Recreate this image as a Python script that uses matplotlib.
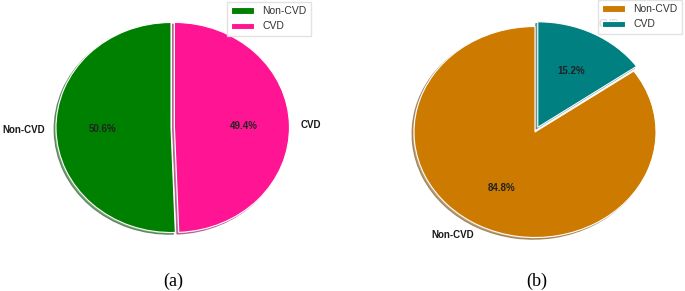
import matplotlib
matplotlib.use("Agg")
import matplotlib.pyplot as plt

labels = ["Non-CVD", "CVD"]
values_a = [50.6, 49.4]
values_b = [84.8, 15.2]
colors_a = ["#008000", "#FF1493"]
colors_b = ["#CC7A00", "#008080"]
explode_a = [0, 0.03]
explode_b = [0, 0.05]
captions = ["(a)", "(b)"]

W, H = 685, 291
fig = plt.figure(figsize=(W / 100, H / 100), dpi=100)
plt.rcParams['font.family'] = ['Liberation Sans', 'DejaVu Sans']


def make_ax(cx, cy, rx, ry, lim=1.6):
    left = (cx - rx * lim) / W
    bottom = (H - cy - ry * lim) / H
    ax = fig.add_axes([left, bottom, 2 * rx * lim / W, 2 * ry * lim / H])
    return ax


def draw(ax, vals, cols, expl, legend_anchor):
    wedges, texts, autotexts = ax.pie(
        vals, labels=labels, colors=cols, explode=expl, startangle=90,
        autopct='%1.1f%%', shadow=dict(ox=-0.012, oy=-0.012, shade=0.45),
        counterclock=True,
        wedgeprops=dict(edgecolor='white', linewidth=0.8),
        textprops=dict(fontsize=7, fontweight='bold', color='#222222'))
    for t in texts:
        t.set_color('#1a1a1a')
    ax.set_aspect('auto')
    ax.set_xlim(-1.6, 1.6)
    ax.set_ylim(-1.6, 1.6)
    ax.axis('off')
    leg = ax.legend(wedges, labels, loc='upper right',
                    bbox_to_anchor=legend_anchor, bbox_transform=fig.transFigure,
                    borderaxespad=0, fontsize=7.5, handlelength=2.2,
                    handleheight=0.55, frameon=True, fancybox=False,
                    edgecolor='#dddddd', framealpha=0.85)
    for t in leg.get_texts():
        t.set_color('#333333')
    leg.set_zorder(10)


ax1 = make_ax(171, 127.5, 115, 105)
draw(ax1, values_a, colors_a, explode_a, (311 / W, 1 - 2 / H))

ax2 = make_ax(535, 132, 121, 105.5)
draw(ax2, values_b, colors_b, explode_b, (682 / W, 1 - 0 / H))

fig.text(173 / W, 1 - 281 / H, captions[0], ha='center', va='center',
         fontsize=13, family='Liberation Serif')
fig.text(537 / W, 1 - 281 / H, captions[1], ha='center', va='center',
         fontsize=13, family='Liberation Serif')

fig.savefig("out.png", dpi=100)
